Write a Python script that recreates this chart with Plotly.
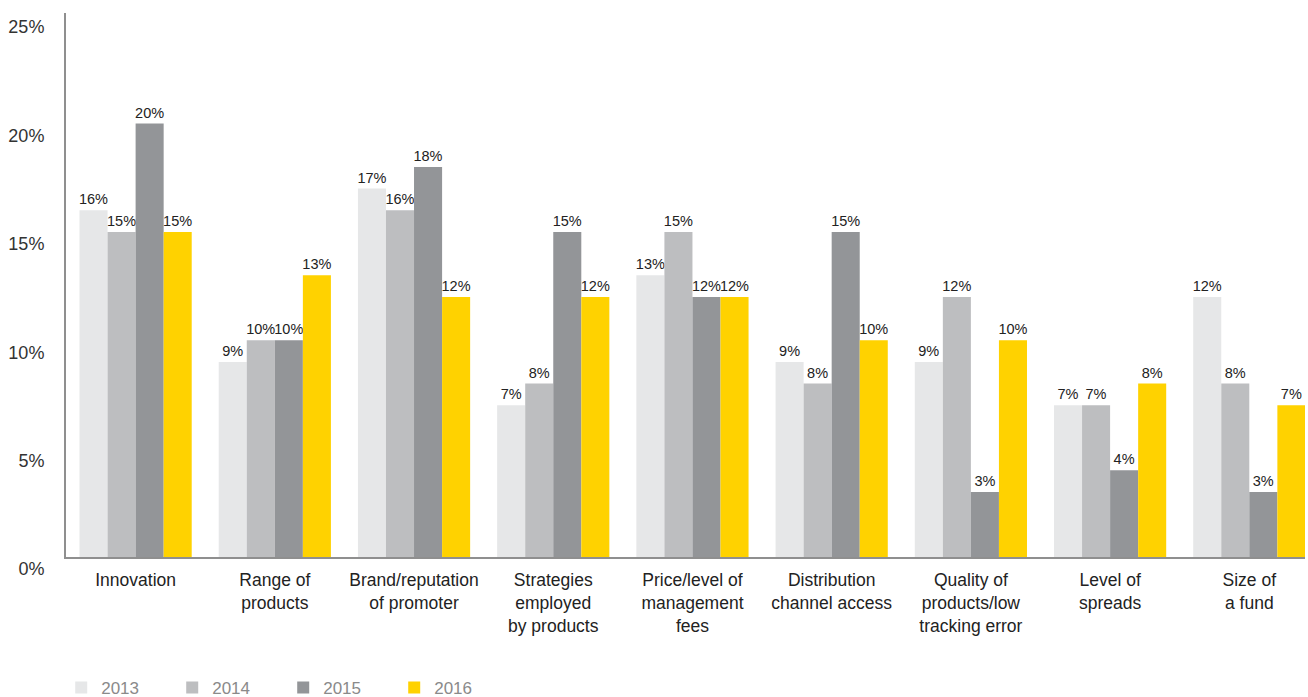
import plotly.graph_objects as go

categories = [
    "Innovation",
    "Range of<br>products",
    "Brand/reputation<br>of promoter",
    "Strategies<br>employed<br>by products",
    "Price/level of<br>management<br>fees",
    "Distribution<br>channel access",
    "Quality of<br>products/low<br>tracking error",
    "Level of<br>spreads",
    "Size of<br>a fund",
]
years = ["2013", "2014", "2015", "2016"]
v2013 = [16, 9, 17, 7, 13, 9, 9, 7, 12]
v2014 = [15, 10, 16, 8, 15, 8, 12, 7, 8]
v2015 = [20, 10, 18, 15, 12, 15, 3, 4, 3]
v2016 = [15, 13, 12, 12, 12, 10, 10, 8, 7]
series = [v2013, v2014, v2015, v2016]
colors = ["#E6E7E8", "#BDBEC0", "#939598", "#FFD200"]
y_ticks = [0, 5, 10, 15, 20, 25]

FONT = "Liberation Sans, Arial, sans-serif"

fig = go.Figure()
for name, vals, col in zip(years, series, colors):
    fig.add_trace(go.Bar(
        x=list(range(len(categories))),
        y=vals,
        name=name,
        marker=dict(color=col, line=dict(width=0)),
        text=[f"{v}%" for v in vals],
        textposition="outside",
        textangle=0,
        constraintext="none",
        cliponaxis=False,
        textfont=dict(family=FONT, size=14.5, color="#222222"),
        hoverinfo="skip",
    ))

fig.update_layout(
    width=1308,
    height=697,
    margin=dict(l=66, r=3, t=13, b=140),
    paper_bgcolor="white",
    plot_bgcolor="white",
    barmode="group",
    bargap=0.194,
    bargroupgap=0,
    font=dict(family=FONT, color="#222222"),
    showlegend=True,
    legend=dict(
        orientation="h",
        xref="container", yref="container",
        x=0.0468, y=0.0129, xanchor="left", yanchor="middle",
        entrywidth=66, entrywidthmode="pixels",
        font=dict(family=FONT, size=17, color="#8a8a8a"),
        itemwidth=30,
        bgcolor="rgba(0,0,0,0)",
        traceorder="normal",
    ),
    xaxis=dict(
        tickmode="array",
        tickvals=list(range(len(categories))),
        ticktext=categories,
        range=[-0.5, 8.4],
        showline=True,
        linecolor="#8f8f8f",
        linewidth=2,
        showgrid=False,
        zeroline=False,
        ticks="",
        tickfont=dict(family=FONT, size=17.5, color="#222222"),
        ticklabelstandoff=6,
        fixedrange=True,
    ),
    yaxis=dict(
        range=[0, 25.1],
        tickmode="array",
        tickvals=y_ticks,
        ticktext=[f"{t}%" for t in y_ticks],
        showline=True,
        linecolor="#8f8f8f",
        linewidth=2,
        showgrid=False,
        zeroline=False,
        ticks="",
        tickfont=dict(family=FONT, size=18, color="#333333"),
        ticklabelstandoff=16,
        ticklabelshift=12,
        fixedrange=True,
    ),
)

fig.write_html(
    "out.html",
    config={"displayModeBar": False},
    post_script="document.body.style.margin='0';document.body.style.overflow='hidden';",
)
